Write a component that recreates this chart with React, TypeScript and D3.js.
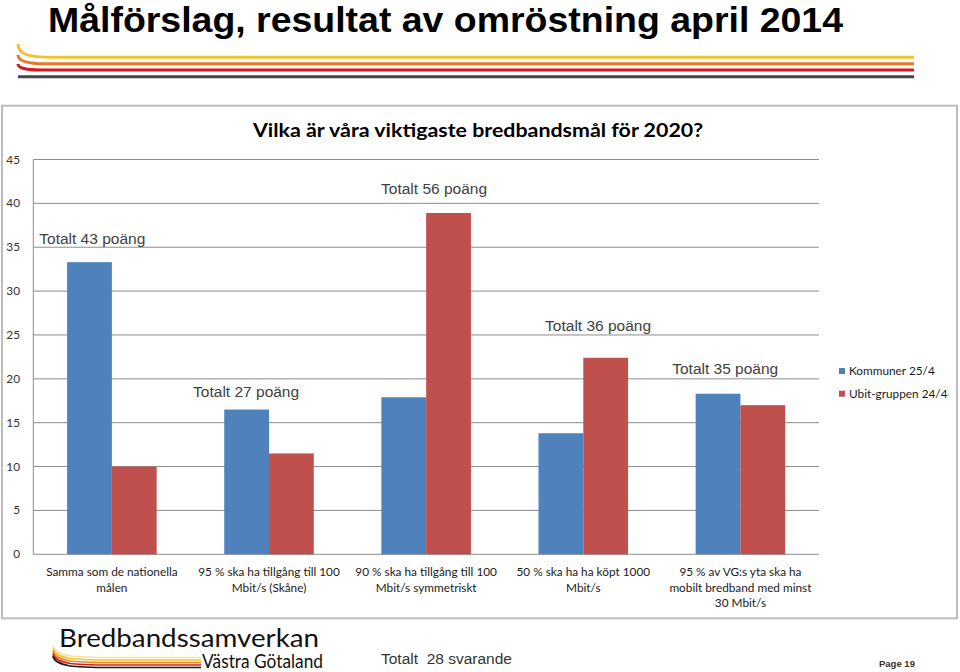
import React from 'react';
import * as d3 from 'd3';

// chart data
const categories: string[][] = [
  ['Samma som de nationella', 'målen'],
  ['95 % ska ha tillgång till 100', 'Mbit/s (Skåne)'],
  ['90 % ska ha tillgång till 100', 'Mbit/s symmetriskt'],
  ['50 % ska ha ha köpt 1000', 'Mbit/s'],
  ['95 % av VG:s yta ska ha', 'mobilt bredband med minst', '30 Mbit/s'],
];
const seriesNames = ['Kommuner 25/4', 'Ubit-gruppen 24/4'];
const kommuner = [33.3, 16.5, 17.9, 13.8, 18.3];
const ubit = [10, 11.5, 38.9, 22.4, 17.0];
const totals = [43, 27, 56, 36, 35];
const yTicks = [0, 5, 10, 15, 20, 25, 30, 35, 40, 45];

// where each "Totalt" note sits: fraction into the category band, value on y
const noteBandOffset = [0.038, 0.017, 0.213, 0.257, 0.066];
const noteValue = [35.35, 17.9, 41.05, 25.45, 20.55];

const colors = ['#4f81bd', '#c0504d'];
const chartFont = 'Lato, "Open Sans", sans-serif';
const arial = '"Liberation Sans", Arial, sans-serif';

const App: React.FC = () => {
  const width = 960;
  const height = 672;
  const plot = { left: 33.3, right: 819, top: 159.5, bottom: 554.3 };

  const keys = categories.map((c) => c.join(' '));
  const x0 = d3.scaleBand<string>().domain(keys).range([plot.left, plot.right]).paddingInner(0.43).paddingOuter(0.215);
  const x1 = d3.scaleBand<number>().domain([0, 1]).range([0, x0.bandwidth()]);
  const y = d3.scaleLinear().domain([0, 45]).range([plot.bottom, plot.top]);
  const step = x0.step();
  const bandStart = (i: number) => plot.left + i * step;

  const values = [kommuner, ubit];

  // header stripes
  const stripe = (y0: number, y1: number, bend: number) =>
    `M18,${y0} C18,${y1 - 2} ${18 + bend * 0.4},${y1} ${18 + bend},${y1} L914,${y1}`;

  // footer logo stripes
  const logoColors = ['#f5e39a', '#f1c232', '#e8891f', '#d42020', '#1a1a1a'];
  const logoEnds = [657.5, 660, 662.5, 665, 667.5];

  return (
    <svg width={width} height={height} style={{ position: 'absolute', left: 0, top: 0, display: 'block', background: '#fff' }}>
      {/* page title */}
      <text x={48} y={32} fontFamily={'"Liberation Sans Narrow", "Arial Narrow", sans-serif'} fontWeight="bold" fontSize={35}
        textLength={795} lengthAdjust="spacingAndGlyphs" fill="#000">
        Målförslag, resultat av omröstning april 2014
      </text>
      <path d={stripe(44, 57.3, 34)} fill="none" stroke="#f2c331" strokeWidth={3} />
      <path d={stripe(55, 63.8, 28)} fill="none" stroke="#e9792a" strokeWidth={3} />
      <path d={stripe(64, 70, 22)} fill="none" stroke="#d9161c" strokeWidth={3} />
      <line x1={18} x2={914} y1={76.7} y2={76.7} stroke="#45454d" strokeWidth={3} />

      {/* chart frame */}
      <rect x={2} y={105.7} width={955} height={512.6} fill="#fff" stroke="#bcbcbc" strokeWidth={2} />

      <text x={478} y={137} textAnchor="middle" fontFamily={chartFont} fontWeight="bold" fontSize={19.5}
        textLength={450} lengthAdjust="spacingAndGlyphs" fill="#000">
        Vilka är våra viktigaste bredbandsmål för 2020?
      </text>

      {/* grid + y ticks */}
      {yTicks.map((t) => (
        <g key={t}>
          <line x1={plot.left} x2={plot.right} y1={y(t)} y2={y(t)} stroke="#8c8c8c" strokeWidth={1} />
          <text x={20} y={y(t) + 4} textAnchor="end" fontFamily={chartFont} fontSize={11.8} fill="#333">{t}</text>
        </g>
      ))}
      <line x1={plot.left} x2={plot.left} y1={y(45)} y2={y(0)} stroke="#8c8c8c" strokeWidth={1} />

      {/* bars */}
      {keys.map((k, i) => (
        <g key={k} transform={`translate(${x0(k)},0)`}>
          {values.map((vals, s) => (
            <rect key={s} x={x1(s)} y={y(vals[i])} width={x1.bandwidth()} height={y(0) - y(vals[i])} fill={colors[s]} />
          ))}
        </g>
      ))}

      {/* category labels */}
      {categories.map((lines, i) => {
        const cx = (x0(keys[i]) as number) + x0.bandwidth() / 2;
        return (
          <text key={i} textAnchor="middle" fontFamily={chartFont} fontSize={11.8} fill="#1a1a1a">
            {lines.map((l, j) => (
              <tspan key={j} x={cx} y={576 + j * 15.5}>{l}</tspan>
            ))}
          </text>
        );
      })}

      {/* total notes */}
      {totals.map((t, i) => (
        <text key={i} x={bandStart(i) + noteBandOffset[i] * step} y={y(noteValue[i])} fontFamily={arial} fontSize={15.5} fill="#404040">
          {`Totalt ${t} poäng`}
        </text>
      ))}

      {/* legend */}
      {seriesNames.map((n, s) => (
        <g key={n} transform={`translate(839,${368 + s * 22.7})`}>
          <rect width={6} height={6} fill={colors[s]} />
          <text x={10} y={7} fontFamily={chartFont} fontSize={11.8} fill="#1a1a1a">{n}</text>
        </g>
      ))}

      {/* footer */}
      {logoColors.map((c, i) => (
        <path key={c}
          d={`M53,${646 + i * 2.5} C55,${logoEnds[i] - 1} 75,${logoEnds[i]} 110,${logoEnds[i]} L201,${logoEnds[i]}`}
          fill="none" stroke={c} strokeWidth={1.6} />
      ))}
      <text x={59} y={646.7} fontFamily={chartFont} fontSize={25} textLength={260} lengthAdjust="spacingAndGlyphs" fill="#111">
        Bredbandssamverkan
      </text>
      <text x={202} y={668.3} fontFamily={chartFont} fontSize={18.5} textLength={121} lengthAdjust="spacingAndGlyphs" fill="#111">
        Västra Götaland
      </text>
      <text x={381} y={664} fontFamily={arial} fontSize={15.5} fill="#333" style={{ whiteSpace: 'pre' }}>
        Totalt  28 svarande
      </text>
      <text x={879} y={667} fontFamily={arial} fontWeight="bold" fontSize={9.5} fill="#333">Page 19</text>
    </svg>
  );
};

export default App;
